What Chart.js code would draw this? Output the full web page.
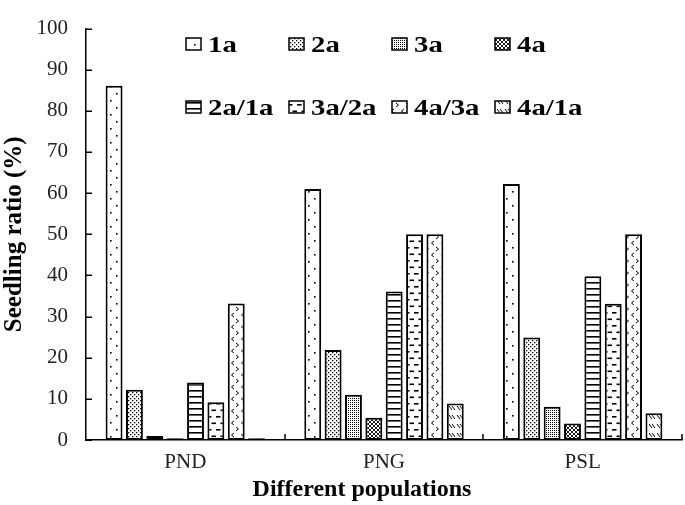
<!DOCTYPE html>
<html>
<head>
<meta charset="utf-8">
<script src="https://cdn.jsdelivr.net/npm/chart.js@4"></script>
<style>
html,body{margin:0;padding:0;background:#fff;}
#c{display:block;}
</style>
</head>
<body>
<canvas id="c" width="685" height="505"></canvas>
<script>
const categories = ['PND', 'PNG', 'PSL'];
const seriesLabels = ['1a', '2a', '3a', '4a', '2a/1a', '3a/2a', '4a/3a', '4a/1a'];
const s1a   = [86.1, 61.0, 62.2];
const s2a   = [12.2, 21.9, 24.9];
const s3a   = [1.0, 11.0, 8.1];
const s4a   = [0.4, 5.4, 4.0];
const s2a1a = [14.0, 36.1, 39.8];
const s3a2a = [9.2, 50.0, 33.1];
const s4a3a = [33.2, 50.0, 50.0];
const s4a1a = [0.4, 8.9, 6.5];
const seriesValues = [s1a, s2a, s3a, s4a, s2a1a, s3a2a, s4a3a, s4a1a];
const yTicks = [0, 10, 20, 30, 40, 50, 60, 70, 80, 90, 100];
const xTitle = 'Different populations';
const yTitle = 'Seedling ratio (%)';

const FONT = '"Liberation Serif", "Times New Roman", serif';

function makePattern(w, h, draw) {
  const cv = document.createElement('canvas');
  cv.width = w; cv.height = h;
  const g = cv.getContext('2d');
  g.fillStyle = '#fff';
  g.fillRect(0, 0, w, h);
  g.fillStyle = '#000';
  g.strokeStyle = '#000';
  draw(g);
  return document.getElementById('c').getContext('2d').createPattern(cv, 'repeat');
}
function seg(g, x1, y1, x2, y2, lw) {
  g.lineWidth = lw || 1;
  g.beginPath(); g.moveTo(x1, y1); g.lineTo(x2, y2); g.stroke();
}
const patterns = [
  makePattern(12, 14, g => { g.fillRect(2, 2, 1.6, 1.6); g.fillRect(8, 9, 1.6, 1.6); }),
  makePattern(4, 4, g => { g.fillRect(0, 0, 1.3, 1.3); g.fillRect(2, 2, 1.3, 1.3); }),
  makePattern(2, 2, g => { g.fillRect(0, 0, 1, 1); }),
  makePattern(4, 4, g => { seg(g, 0, 0, 4, 4, 0.9); seg(g, 4, 0, 0, 4, 0.9); }),
  makePattern(4, 6, g => { g.fillRect(0, 0, 4, 1.6); }),
  makePattern(9, 13, g => { g.fillRect(0, 0, 4.5, 1.6); g.fillRect(4.5, 6.5, 4.5, 1.6); }),
  makePattern(10, 12, g => {
    g.lineWidth = 1;
    g.beginPath(); g.moveTo(4, 1); g.lineTo(1.5, 3); g.lineTo(4, 5); g.stroke();
    g.beginPath(); g.moveTo(6, 7); g.lineTo(8.5, 9); g.lineTo(6, 11); g.stroke();
  }),
  makePattern(8, 9, g => { seg(g, 1, 1, 4, 5, 1); seg(g, 4, 1, 7, 5, 1); })
];

const datasets = seriesLabels.map((lab, i) => ({
  label: lab,
  data: seriesValues[i],
  backgroundColor: patterns[i],
  borderColor: '#000',
  borderWidth: 2,
  borderSkipped: false,
  categoryPercentage: 0.82,
  barPercentage: 0.83
}));

const legendCols = [186, 289, 392, 495];
const legendRows = [{box: 38, base: 52}, {box: 101, base: 115}];

const customLegend = {
  id: 'customLegend',
  afterDraw(chart) {
    const ctx = chart.ctx;
    ctx.save();
    chart.data.datasets.forEach((ds, i) => {
      const col = i % 4, row = Math.floor(i / 4);
      const bx = legendCols[col], r = legendRows[row];
      ctx.fillStyle = ds.backgroundColor;
      ctx.fillRect(bx, r.box, 15, 12);
      ctx.strokeStyle = '#000';
      ctx.lineWidth = 1.5;
      ctx.strokeRect(bx, r.box, 15, 12);
      ctx.save();
      ctx.translate(bx + 22, r.base);
      ctx.scale(1.25, 1);
      ctx.fillStyle = '#000';
      ctx.font = 'bold 23px ' + FONT;
      ctx.textBaseline = 'alphabetic';
      ctx.textAlign = 'left';
      ctx.fillText(ds.label, 0, 0);
      ctx.restore();
    });
    ctx.restore();
  }
};

const innerTicksAndTitle = {
  id: 'innerTicks',
  afterDraw(chart) {
    const {ctx, chartArea: a, scales: {x, y}} = chart;
    ctx.save();
    ctx.strokeStyle = '#000';
    ctx.lineWidth = 1.5;
    y.ticks.forEach((t, i) => {
      const py = Math.round(y.getPixelForTick(i)) + 0.25;
      ctx.beginPath(); ctx.moveTo(a.left, py); ctx.lineTo(a.left + 6, py); ctx.stroke();
    });
    for (let k = 1; k <= categories.length; k++) {
      const px = Math.round(x.getPixelForValue(k - 0.5));
      ctx.beginPath(); ctx.moveTo(px, a.bottom); ctx.lineTo(px, a.bottom - 6); ctx.stroke();
    }
    // x axis title (slightly left of centre, as in the original)
    ctx.fillStyle = '#000';
    ctx.font = 'bold 24px ' + FONT;
    ctx.textAlign = 'center';
    ctx.textBaseline = 'middle';
    ctx.fillText(xTitle, 362, 490);
    ctx.restore();
  }
};

new Chart(document.getElementById('c'), {
  type: 'bar',
  data: { labels: categories, datasets },
  options: {
    responsive: false,
    animation: false,
    layout: { padding: { top: 0, right: 3, left: 0, bottom: 0 } },
    plugins: { legend: { display: false }, tooltip: { enabled: false } },
    scales: {
      x: {
        grid: { display: false, drawTicks: false },
        border: { display: true, color: '#000', width: 1.5 },
        ticks: { color: '#222', font: { family: FONT, size: 21 }, padding: 10 },
        title: { display: false, text: xTitle },
        afterFit(s) { s.height = 65; }
      },
      y: {
        min: 0, max: 100,
        afterBuildTicks(s) { s.ticks = yTicks.map(v => ({ value: v })); },
        grid: { display: false, drawTicks: false },
        border: { display: true, color: '#000', width: 1.5 },
        ticks: { color: '#222', font: { family: FONT, size: 21, lineHeight: 1 }, padding: 18 },
        title: { display: true, text: yTitle, color: '#000',
                 font: { family: FONT, size: 25, weight: 'bold' }, padding: 0 },
        afterFit(s) { s.width = 86; }
      }
    }
  },
  plugins: [customLegend, innerTicksAndTitle]
});
</script>
</body>
</html>
